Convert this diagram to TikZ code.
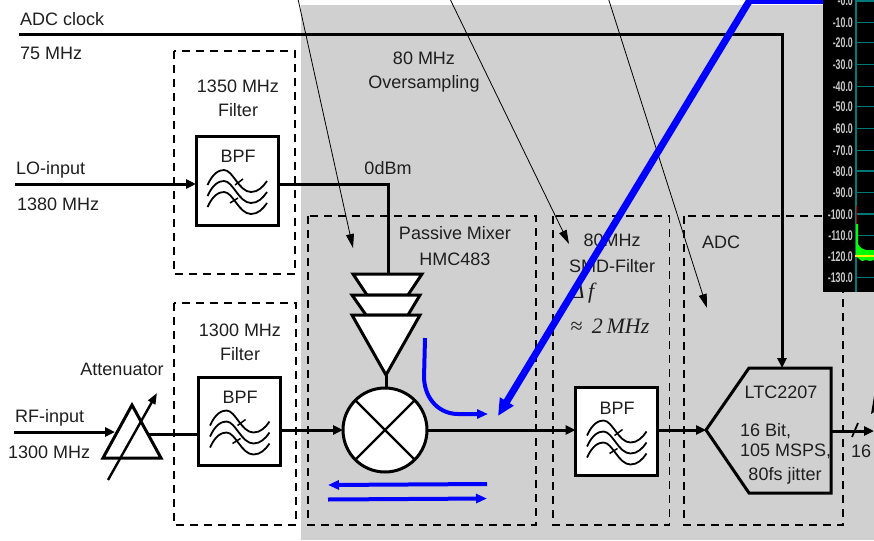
\documentclass[tikz,border=0pt]{standalone}
\usepackage{fontspec}
\setmainfont{Liberation Sans}
\newfontfamily\timesit{Liberation Serif}
\usetikzlibrary{arrows.meta}
\definecolor{bggrey}{HTML}{D0D0D0}
\definecolor{axisteal}{HTML}{007878}
\definecolor{scalegrey}{HTML}{C8C8C8}
\tikzset{
    txt/.style={font=\fontsize{18}{20}\selectfont, text=black!88, inner sep=0pt, anchor=base},
    txtl/.style={txt, anchor=base west},
    mathtxt/.style={font=\fontsize{22}{24}\selectfont\timesit\itshape, text=black!88, inner sep=0pt, anchor=base},
    sig/.style={line width=3pt, -{Triangle[length=10pt,width=9pt]}},
    wire/.style={line width=3pt},
    thinarrow/.style={line width=0.8pt, -{Triangle[length=14pt,width=8pt]}},
    dashbox/.style={line width=1.5pt, dash pattern=on 8pt off 6pt},
    bpfbox/.style={draw, line width=3pt, fill=white, minimum width=82pt, minimum height=88pt, inner sep=0pt, outer sep=0pt},
    part/.style={line width=3pt, fill=white, line join=miter},
    bluearrow/.style={line width=4pt, blue, -{Triangle[length=11pt,width=9pt]}},
    bpfwaves/.pic={
        \foreach \dy in {0,11,22}
            \draw[line width=1.8pt] (-29.5,4+\dy) .. controls (-24,-8+\dy) and (-18,-11+\dy) .. (-13,-11+\dy) .. controls (-4,-11+\dy) and (2,11+\dy) .. (14,11+\dy) .. controls (21,11+\dy) and (26,6+\dy) .. (30,\dy);
        \draw[line width=1.5pt] (-2,4) -- (6,-2);
        \draw[line width=1.5pt] (-7,22) -- (1,17);
    }
}
\begin{document}
\begin{tikzpicture}[x=1pt,y=-1pt]
    \useasboundingbox (0,0) rectangle (874,540);
    \fill[bggrey] (301,5) rectangle (874,540);
    % Filter and stage frames
    \draw[dashbox] (174,51) rectangle (295,274);
    \draw[dashbox] (174,303) rectangle (296,525);
    \draw[dashbox] (308,216) rectangle (536,525);
    \draw[dashbox] (553,216) rectangle (669.5,525);
    \draw[dashbox] (684,216) rectangle (843,525);
    % Labels
    \node[txtl] (clocklab) at (20,26) {ADC clock};
    \node[txtl] (clockfreq) at (20,60) {75 MHz};
    \node[txtl] (lolab) at (16,175) {LO-input};
    \node[txtl] (lofreq) at (17,210) {1380 MHz};
    \node[txtl] (rflab) at (15,422) {RF-input};
    \node[txtl] (rffreq) at (8,458) {1300 MHz};
    \node[txt] (attlab) at (122,375) {Attenuator};
    \node[txt] (filtafreq) at (238,93) {1350 MHz};
    \node[txt] (filtalab) at (238,117) {Filter};
    \node[txt] (filtbfreq) at (240,336) {1300 MHz};
    \node[txt] (filtblab) at (240,360) {Filter};
    \node[txt] (oversfreq) at (424,64.5) {80 MHz};
    \node[txt] (overslab) at (424,88.5) {Oversampling};
    \node[txt] (lolevel) at (388,174) {0dBm};
    \node[txt] (mixlab) at (455,239) {Passive Mixer};
    \node[txt] (mixtype) at (455,265) {HMC483};
    \node[txt] (smdfreq) at (612,246) {80MHz};
    \node[txt] (smdlab) at (612,272) {SMD-Filter};
    \node[mathtxt] (bwlab) at (583,298) {Δ\,f};
    \node[mathtxt] (bwval) at (610,333) {{\upshape≈}\ \,2\,MHz};
    \node[txt] (adclab) at (721,248) {ADC};
    % Filter boxes
    \node[bpfbox] (bpfa) at (237,181) {};
    \node[bpfbox] (bpfb) at (239.5,421.5) {};
    \node[bpfbox] (bpfc) at (616.5,431.5) {};
    \pic at (bpfa) {bpfwaves};
    \pic at (bpfb) {bpfwaves};
    \pic at (bpfc) {bpfwaves};
    \node[txt] (bpfalab) at (238,163) {BPF};
    \node[txt] (bpfblab) at (240,403) {BPF};
    \node[txt] (bpfclab) at (617,414) {BPF};
    % Attenuator
    \draw[line width=3pt, line join=miter] (103,458) -- (132,405) -- (161,458) -- cycle;
    \coordinate (rfin) at (14,432);
    \coordinate (attin) at (115,432);
    \coordinate (attout) at (148,434);
    \draw[sig] (rfin) -- (attin);
    \draw[wire] (attout) -- (attout -| bpfb.west);
    \coordinate (attfrom) at (108,480);
    \coordinate (attto) at (157,393);
    \draw[line width=2.4pt, -{Triangle[length=11pt,width=8pt]}] (attfrom) -- (attto);
    % Amplifier chain and mixer
    \coordinate (ampin) at (388,274);
    \coordinate (ampout) at (386,375);
    \draw[part] (353,274) -- (422,274) -- (408,295) -- (367,295) -- cycle;
    \draw[part] (352,295) -- (420,295) -- (408,315) -- (366,315) -- cycle;
    \draw[part] (352,315) -- (420,315) -- (ampout) -- cycle;
    \node[draw, circle, line width=3pt, fill=white, minimum size=84pt, inner sep=0pt, outer sep=0pt] (mix) at (385,430) {};
    \draw[line width=2.4pt] (mix.45) -- (mix.225);
    \draw[line width=2.4pt] (mix.135) -- (mix.315);
    \draw[wire] (ampout) -- (ampout |- mix.north);
    % ADC
    \coordinate (adcin) at (706,430);
    \coordinate (adctop) at (782,368);
    \coordinate (adcout) at (831,431);
    \draw[line width=3pt, line join=miter] (adcin) -- (749,368) -- (831,368) -- (831,493) -- (749,493) -- cycle;
    \node[txt] (adctype) at (781,398) {LTC2207};
    \node[txtl] (adcbits) at (740,436) {16 Bit,};
    \node[txtl] (adcrate) at (740,456) {105 MSPS,};
    \node[txt] (adcjitter) at (785,480) {80fs jitter};
    % Signal path
    \coordinate (clockin) at (19,35);
    \coordinate (loin) at (15,184);
    \coordinate (outend) at (874,431);
    \coordinate (ampfeed) at (388,184);
    \draw[sig] (clockin) -- (782,35) -- (adctop);
    \draw[sig] (loin) -- (loin -| bpfa.west);
    \draw[wire] (ampfeed -| bpfa.east) -- (ampfeed) -- (ampin);
    \draw[sig] (bpfb.east |- mix.west) -- (mix.west);
    \draw[sig] (mix.east) -- (mix.east -| bpfc.west);
    \draw[sig] (bpfc.east |- adcin) -- (adcin);
    \draw[sig] (adcout) -- (outend);
    \draw[line width=1.8pt] (852,437) -- (858,423);
    \node[txt] (buswidth) at (861,457) {16};
    \fill (871,414) -- (874,396) -- (874,412) -- cycle;
    % Pointers from above
    \coordinate (pointa) at (298,-1);
    \coordinate (pointb) at (450,-1);
    \coordinate (pointc) at (608.5,-1);
    \coordinate (mixpoint) at (353,248);
    \coordinate (smdpoint) at (569,244);
    \coordinate (adcpoint) at (707,308);
    \draw[thinarrow] (pointa) -- (mixpoint);
    \draw[thinarrow] (pointb) -- (smdpoint);
    \draw[thinarrow] (pointc) -- (adcpoint);
    % Spectrum panel
    \fill[black] (823,0) rectangle (874,292);
    \draw[axisteal, line width=1.5pt] (856,0) -- (856,292);
    \foreach \yy/\lab [count=\i] in {1/-0.0,22.6/-10.0,42.7/-20.0,64.7/-30.0,86.3/-40.0,106.7/-50.0,128.3/-60.0,150.3/-70.0,171/-80.0,192.3/-90.0,214/-100.0,235.7/-110.0,256/-120.0,277.7/-130.0} {
        \draw[axisteal, line width=1.5pt] (856,\yy) -- (874,\yy);
        \node[font=\fontsize{14}{14}\selectfont\bfseries, text=scalegrey, inner sep=0pt, anchor=base east, xscale=0.63] (db\i) at (853,\yy+5) {\lab};
    }
    \fill[green] (856,224) -- (858,224) -- (858,244) -- (860,247) -- (863,249) -- (866,250) -- (870,250) -- (874,250) -- (874,260) -- (870,261) -- (866,260) -- (862,261) -- (859,259) -- (856,256) -- cycle;
    \draw[red!70!black, line width=1.5pt] (856.5,206) -- (856.5,224);
    \draw[yellow, line width=1.2pt] (855,256) -- (874,256);
    % Blue signal arrows
    \fill[blue] (750,0) rectangle (823,4.5);
    \coordinate (bluefrom) at (750.5,-1);
    \coordinate (blueto) at (498,416);
    \draw[line width=7pt, blue, -{Triangle[length=17pt,width=15pt]}] (bluefrom) -- (blueto);
    \draw[bluearrow] (425,338) -- (424,378) .. controls (425,400) and (440,414) .. (458,414) -- (488,414);
    \draw[bluearrow] (487,484) -- (328,485);
    \draw[bluearrow] (328,499.5) -- (487,498.5);
\end{tikzpicture}
\end{document}
